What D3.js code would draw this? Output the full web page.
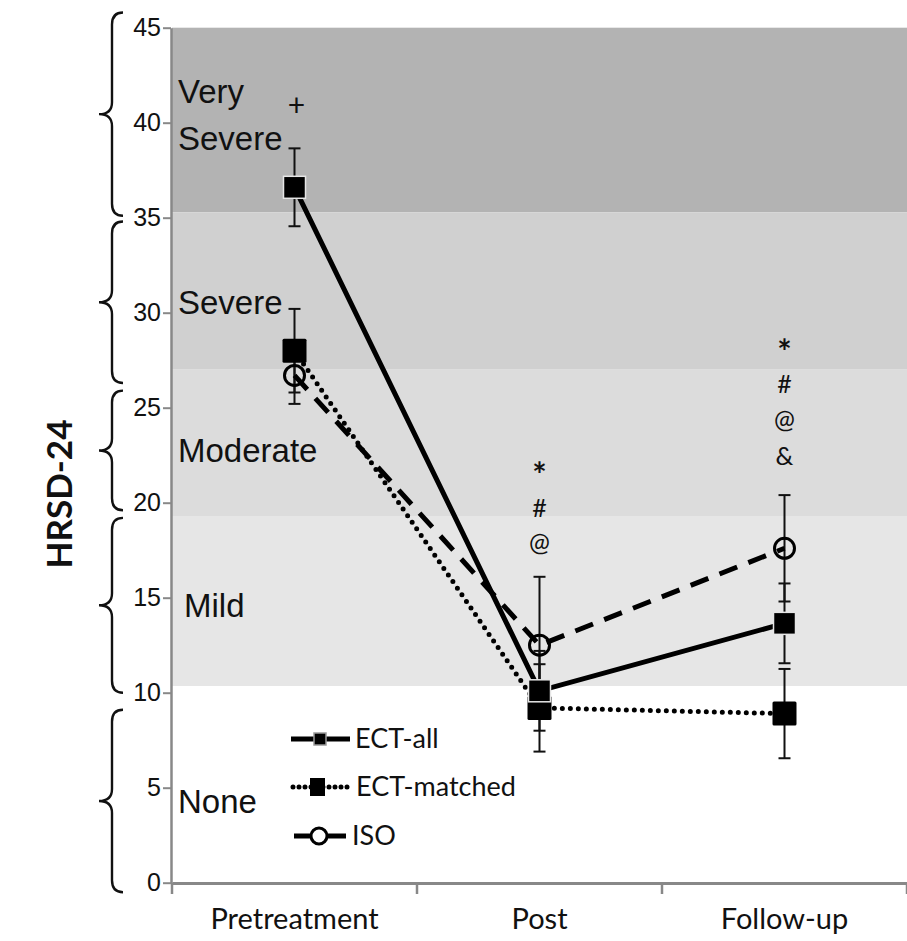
<!DOCTYPE html>
<html>
<head>
<meta charset="utf-8">
<script src="https://cdn.jsdelivr.net/npm/d3@7"></script>
<style>
  body { margin: 0; background: #fff; }
  svg { display: block; }
</style>
</head>
<body>
<div id="chart"></div>
<script>
// Data for the chart
const phases = ["Pretreatment", "Post", "Follow-up"];

const ectAll = [36.6, 10.1, 13.65];
const ectAllErr = [2.05, 2.1, 2.1];

const ectMatched = [28.0, 9.2, 8.9];
const ectMatchedErr = [2.2, 2.3, 2.35];

const iso = [26.7, 12.5, 17.6];
const isoErr = [1.5, 3.6, 2.8];

const yTicks = [0, 5, 10, 15, 20, 25, 30, 35, 40, 45];

// severity bands (HRSD-24 score ranges)
const bandNames = ["Very Severe", "Severe", "Moderate", "Mild", "None"];
const bandLo = [35.28, 27.0, 19.3, 10.35, 0];
const bandHi = [45, 35.28, 27.0, 19.3, 10.35];

// braces at the left side, one per band
const braceTop = [45.8, 34.8, 25.9, 19.2, 9.1];
const braceBottom = [35.1, 26.3, 19.6, 10.0, -0.5];

// significance markers above each time point
const sigSymbols = [["+"], ["*", "#", "@"], ["*", "#", "@", "&"]];
const sigTop = [40.9, 21.8, 28.3];

const legendNames = ["ECT-all", "ECT-matched", "ISO"];

const width = 907, height = 941;
const svg = d3.select("#chart").append("svg")
    .attr("width", width)
    .attr("height", height);

const y = d3.scaleLinear().domain([0, 45]).range([882.7, 27.7]);
const x = d3.scaleBand().domain(phases).range([172, 907]);
const cx = d => x(d) + x.bandwidth() / 2;

const bandColor = d3.scaleOrdinal()
    .domain(bandNames)
    .range(["#b3b3b3", "#d0d0d0", "#dcdcdc", "#e6e6e6", "#ffffff"]);

const calibri = "Lato, 'Open Sans', sans-serif";
const arial = "'Liberation Sans', Arial, sans-serif";

// Background bands
svg.append("g")
    .selectAll("rect")
    .data(bandNames)
    .enter().append("rect")
    .attr("x", 172)
    .attr("width", 907 - 172)
    .attr("y", (d, i) => y(bandHi[i]))
    .attr("height", (d, i) => y(bandLo[i]) - y(bandHi[i]))
    .attr("fill", d => bandColor(d));

// Band labels, placed at the brace tips
const labels = svg.append("g")
    .attr("font-family", arial)
    .attr("font-size", 33)
    .attr("fill", "#111");

bandNames.forEach((name, i) => {
    const mid = y((braceTop[i] + braceBottom[i]) / 2);
    const words = i === 0 ? ["Very", "Severe"] : [name];
    words.forEach((w, j) => {
        labels.append("text")
            .attr("x", i === 3 ? 184 : 178)
            .attr("y", mid + (j - (words.length - 1) / 2) * 47)
            .attr("dy", "0.36em")
            .text(w);
    });
});

// Braces
const braceG = svg.append("g")
    .attr("fill", "none")
    .attr("stroke", "#111")
    .attr("stroke-width", 2.4);

braceTop.forEach((t, i) => {
    const y1 = y(t), y2 = y(braceBottom[i]);
    const ym = (y1 + y2) / 2;
    const xr = 123, xv = 112, xt = 99, c = 12;
    const p = d3.path();
    p.moveTo(xr, y1);
    p.quadraticCurveTo(xv, y1, xv, y1 + c);
    p.lineTo(xv, ym - c);
    p.quadraticCurveTo(xv, ym, xt, ym);
    p.quadraticCurveTo(xv, ym, xv, ym + c);
    p.lineTo(xv, y2 - c);
    p.quadraticCurveTo(xv, y2, xr, y2);
    braceG.append("path").attr("d", p.toString());
});

// Y axis
const yAxis = svg.append("g")
    .attr("transform", "translate(171,0)")
    .call(d3.axisLeft(y).tickValues(yTicks).tickSize(8).tickSizeOuter(0).tickPadding(2));
yAxis.select(".domain").attr("stroke", "#888").attr("stroke-width", 2.5);
yAxis.selectAll(".tick line").attr("stroke", "#888").attr("stroke-width", 2);
yAxis.selectAll(".tick text")
    .style("font-family", arial)
    .style("font-size", "25px")
    .attr("fill", "#111");

// X axis: ticks at category boundaries, labels in the middle
const xAxis = svg.append("g")
    .attr("transform", "translate(0,883)")
    .call(d3.axisBottom(x).tickSize(0).tickPadding(25));
xAxis.select(".domain").attr("stroke", "#888").attr("stroke-width", 3);
xAxis.selectAll(".tick text")
    .style("font-family", calibri)
    .style("font-size", "29px")
    .attr("fill", "#111");
xAxis.selectAll(".bound")
    .data(phases.map(d => x(d)).concat([x.range()[1]]))
    .enter().append("line")
    .attr("class", "bound")
    .attr("x1", d => d).attr("x2", d => d)
    .attr("y1", 0).attr("y2", 11)
    .attr("stroke", "#888")
    .attr("stroke-width", 2.5);

// Y axis title
svg.append("text")
    .attr("transform", "translate(60,494) rotate(-90)")
    .attr("text-anchor", "middle")
    .attr("dy", "0.35em")
    .attr("font-family", calibri)
    .attr("font-weight", "bold")
    .attr("font-size", 35)
    .attr("fill", "#111")
    .text("HRSD-24");

// Series
const series = [
    { name: "ECT-matched", values: ectMatched, err: ectMatchedErr, dash: "0,8" },
    { name: "ISO", values: iso, err: isoErr, dash: "19,12" },
    { name: "ECT-all", values: ectAll, err: ectAllErr, dash: null },
];

// Error bars
const errG = svg.append("g").attr("stroke", "#111").attr("stroke-width", 2);
series.forEach(s => {
    phases.forEach((p, i) => {
        const px = cx(p);
        const hi = y(s.values[i] + s.err[i]), lo = y(s.values[i] - s.err[i]);
        errG.append("line").attr("x1", px).attr("x2", px).attr("y1", hi).attr("y2", lo);
        errG.append("line").attr("x1", px - 6).attr("x2", px + 6).attr("y1", hi).attr("y2", hi);
        errG.append("line").attr("x1", px - 6).attr("x2", px + 6).attr("y1", lo).attr("y2", lo);
    });
});

// Lines
const line = d3.line()
    .x((d, i) => cx(phases[i]))
    .y(d => y(d));

series.forEach(s => {
    svg.append("path")
        .datum(s.values)
        .attr("fill", "none")
        .attr("stroke", "#000")
        .attr("stroke-width", 5)
        .attr("stroke-linecap", s.dash === "0,8" ? "round" : "butt")
        .attr("stroke-dasharray", s.dash)
        .attr("d", line);
});

// Markers
svg.append("g").selectAll("rect")
    .data(ectMatched)
    .enter().append("rect")
    .attr("x", (d, i) => cx(phases[i]) - 12)
    .attr("y", d => y(d) - 12)
    .attr("width", 24).attr("height", 24)
    .attr("rx", 1.5)
    .attr("fill", "#000");

svg.append("g").selectAll("circle")
    .data(iso)
    .enter().append("circle")
    .attr("cx", (d, i) => cx(phases[i]))
    .attr("cy", d => y(d))
    .attr("r", 10)
    .attr("fill", "none")
    .attr("stroke", "#000")
    .attr("stroke-width", 3);

svg.append("g").selectAll("rect")
    .data(ectAll)
    .enter().append("rect")
    .attr("x", (d, i) => cx(phases[i]) - 11)
    .attr("y", d => y(d) - 11)
    .attr("width", 22).attr("height", 22)
    .attr("fill", "#000")
    .attr("stroke", "#e6e6e6")
    .attr("stroke-width", 1.5);

// Significance markers
const sigG = svg.append("g")
    .attr("font-family", calibri)
    .attr("text-anchor", "middle")
    .attr("fill", "#111");
const sigDy = { "*": "0.55em", "+": "0.33em", "#": "0.36em", "@": "0.3em", "&": "0.36em" };
sigSymbols.forEach((syms, i) => {
    syms.forEach((s, j) => {
        sigG.append("text")
            .attr("x", cx(phases[i]) + (i === 0 ? 2 : 0))
            .attr("y", y(sigTop[i]) + j * 36 + (j > 0 ? 3 : 0))
            .attr("dy", sigDy[s])
            .attr("font-size", s === "*" ? 34 : s === "+" ? 30 : 25)
            .attr("font-weight", s === "*" ? "bold" : "normal")
            .text(s);
    });
});

// Legend
const legend = svg.append("g").attr("transform", "translate(291,739)");
const rowGap = 48;

legend.append("line")
    .attr("x1", 0).attr("x2", 59).attr("y1", 0).attr("y2", 0)
    .attr("stroke", "#000").attr("stroke-width", 5);
legend.append("rect")
    .attr("x", 23).attr("y", -6).attr("width", 12).attr("height", 12)
    .attr("fill", "#000").attr("stroke", "#999").attr("stroke-width", 1.5);

legend.append("line")
    .attr("x1", 2).attr("x2", 58).attr("y1", rowGap).attr("y2", rowGap)
    .attr("stroke", "#000").attr("stroke-width", 5)
    .attr("stroke-linecap", "round").attr("stroke-dasharray", "0,6");
legend.append("rect")
    .attr("x", 19).attr("y", rowGap - 9).attr("width", 15).attr("height", 18)
    .attr("fill", "#000");

legend.append("line")
    .attr("x1", 3).attr("x2", 55).attr("y1", rowGap * 2 + 1).attr("y2", rowGap * 2 + 1)
    .attr("stroke", "#000").attr("stroke-width", 5);
legend.append("circle")
    .attr("cx", 28).attr("cy", rowGap * 2 + 1).attr("r", 8)
    .attr("fill", "#fff").attr("stroke", "#000").attr("stroke-width", 3);

legend.selectAll("text")
    .data(legendNames)
    .enter().append("text")
    .attr("x", (d, i) => [64, 65, 61][i])
    .attr("y", (d, i) => i * rowGap + (i === 2 ? 1 : 0))
    .attr("dy", "0.35em")
    .attr("font-family", calibri)
    .attr("font-size", 27)
    .attr("fill", "#111")
    .text(d => d);
</script>
</body>
</html>
